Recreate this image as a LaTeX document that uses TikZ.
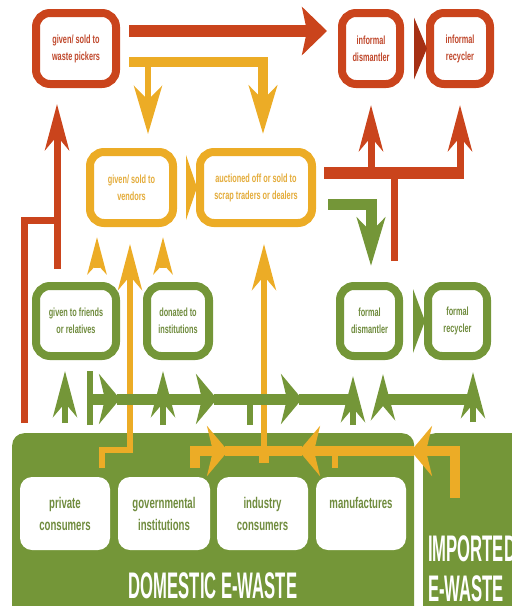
\documentclass[tikz,border=0pt]{standalone}
\usepackage{fontspec}
\setmainfont{Liberation Sans}
\newfontfamily\boxfont{Liberation Sans}[FakeStretch=0.62]
\newfontfamily\headfont{Liberation Sans}[FakeStretch=0.45]
\usetikzlibrary{arrows.meta,calc}
\definecolor{wasteRed}{RGB}{202,68,28}
\definecolor{wasteDark}{RGB}{165,48,20}
\definecolor{vendYellow}{RGB}{236,172,38}
\definecolor{formGreen}{RGB}{116,150,56}
\definecolor{redText}{RGB}{192,72,44}
\definecolor{yellowText}{RGB}{228,172,58}
\definecolor{greenText}{RGB}{112,140,62}

\begin{document}
\begin{tikzpicture}[
  x=1pt, y=-1pt,
  stage/.style={draw, line width=8pt, rounded corners=14pt, fill=white, minimum height=71pt,
    align=center, inner sep=0pt, font=\boxfont\bfseries\fontsize{11.8}{17}\selectfont},
  informal/.style={stage, draw=wasteRed, text=redText},
  trade/.style={stage, draw=vendYellow, text=yellowText},
  formal/.style={stage, draw=formGreen, text=greenText},
  source/.style={fill=white, rounded corners=12pt, minimum height=73pt, align=center, inner sep=0pt,
    text=greenText, font=\boxfont\bfseries\fontsize{15.5}{22}\selectfont},
  panel/.style={fill=formGreen, rounded corners=12pt, anchor=north west, minimum height=220pt},
  bigtitle/.style={text=white, align=left, inner sep=0pt, font=\headfont\bfseries\fontsize{37}{40}\selectfont},
  redbar/.style={draw=wasteRed, line width=12pt},
  redline/.style={draw=wasteRed, line width=7pt},
  yelbar/.style={draw=vendYellow, line width=10pt},
  yelline/.style={draw=vendYellow, line width=6pt},
  grnbar/.style={draw=formGreen, line width=11pt},
  grnline/.style={draw=formGreen, line width=6pt},
  bighead/.style={-{Stealth[length=25pt,width=48pt,inset=5pt]}},
  uphead/.style={-{Stealth[length=46pt,width=24pt,inset=14pt]}},
  downhead/.style={-{Stealth[length=48pt,width=28pt,inset=14pt]}},
  sidehead/.style={-{Stealth[length=21pt,width=50pt,inset=6pt]}},
  smallhead/.style={-{Stealth[length=37pt,width=19pt,inset=10pt]}}
]
\useasboundingbox (0,0) rectangle (512,606);
\clip (0,0) rectangle (512,606);

% Sources of e-waste.
\node[panel, minimum width=402pt] (domestic) at (12,433) {};
\node[panel, minimum width=120pt] (imported) at (423,433) {};
\node[source, minimum width=90pt] (priv) at (65,513.5) {private\\consumers};
\node[source, minimum width=92pt] (govt) at (164,513.5) {governmental\\institutions};
\node[source, minimum width=91pt] (indu) at (262.5,513.5) {industry\\consumers};
\node[source, minimum width=90pt] (manu) at (361,513.5) {manufactures\\\mbox{}};
\node[bigtitle] (domtitle) at (213,586) {DOMESTIC E-WASTE};
\node[bigtitle, anchor=west] (imptitle) at (428,569) {IMPORTED\\E-WASTE};

% Informal, trade and formal stages.
\node[informal, minimum width=80pt] (pick) at (76,48.5) {given/ sold to\\waste pickers};
\node[informal, minimum width=58pt] (idis) at (371,48.5) {informal\\dismantler};
\node[informal, minimum width=60pt] (irec) at (460,48.5) {informal\\recycler};
\node[trade, minimum width=83pt] (vend) at (131.5,187.5) {given/ sold to\\vendors};
\node[trade, minimum width=112pt] (auct) at (256,187.5) {auctioned off or sold to\\scrap traders or dealers};
\node[formal, minimum width=80pt, minimum height=70pt] (frnd) at (76,321) {given to friends\\or relatives};
\node[formal, minimum width=62pt, minimum height=70pt] (dona) at (178,321) {donated to\\institutions};
\node[formal, minimum width=59pt, minimum height=70pt] (fdis) at (369.5,321) {formal\\dismantler};
\node[formal, minimum width=59pt, minimum height=70pt] (frec) at (457.5,321) {formal\\recycler};

% Chevrons between dismantler and recycler.
\fill[wasteDark] ($(idis.east)+(10,-31)$) -- ($(idis.east)+(23,0)$) -- ($(idis.east)+(10,31)$) -- cycle;
\fill[vendYellow] ($(vend.east)+(9,-32.5)$) -- ($(vend.east)+(20,0)$) -- ($(vend.east)+(9,32.5)$) -- cycle;
\fill[formGreen] ($(fdis.east)+(10,-32)$) -- ($(fdis.east)+(22,0)$) -- ($(fdis.east)+(10,32)$) -- cycle;

% Red flows.
\coordinate (redjoin) at (60.5,220);
\coordinate (redfork) at (324,173);
\coordinate (redend) at (463.5,173);
\coordinate (redtee) at (394,173);
\draw[redbar, bighead] ($(pick.east)+(9,-17.5)$) -- ($(idis.west)+(-11,-17.5)$);
\draw[redline] ($(domestic.north west)+(12,-10)$) |- (redjoin);
\draw[redline, uphead] ($(frnd.north)+(-19,-13)$) -- ($(pick.south)+(-19,16)$);
\draw[redbar] (redfork) -- (redend);
\draw[redline, uphead] (redfork -| idis.south) -- ($(idis.south)+(0,17)$);
\draw[redline, uphead] (redend -| irec.south) -- ($(irec.south)+(0,17)$);
\draw[redline] ($(fdis.north)+(24.5,-21)$) -- (redtee);

% Yellow flows.
\coordinate (privbend) at (130,450);
\coordinate (busgov) at (195,451);
\coordinate (busmid) at (264,451);
\coordinate (busmanu) at (335,451);
\coordinate (busimp) at (455,451);
\draw[yelbar, downhead] ($(pick.east)+(9,13.5)$) -| ($(auct.north)+(7,-14)$);
\draw[yelline, downhead] ($(vend.north)+(16.5,-90)$) -- ($(vend.north)+(16.5,-14)$);
\draw[yelline, smallhead] ($(frnd.north)+(21,-14)$) -- ($(vend.south)+(-34.5,10)$);
\draw[yelline, smallhead] ($(dona.north)+(-15,-14)$) -- ($(vend.south)+(31.5,10)$);
\draw[yelline, uphead] ($(priv.north)+(37,-9)$) |- (privbend) -- ($(vend.south)+(-1.5,17)$);
\draw[yelbar, sidehead] ($(govt.north)+(31,-9)$) |- ($(busgov)+(33,0)$);
\draw[yelbar] ($(busgov)+(30,0)$) -- (busmid);
\draw[yelbar, sidehead] ($(imported.north west)+(32,65)$) |- ($(busimp)+(-44,0)$);
\draw[yelbar, sidehead] ($(busimp)+(-41,0)$) -- ($(busmid)+(35,0)$);
\draw[yelbar] ($(busmid)+(38,0)$) -- (busmid);
\draw[yelbar] ($(indu.north)+(1.5,-14)$) -- (busmid);
\draw[yelline] ($(manu.north)+(-26,-9)$) -- (busmanu);
\draw[yelline, uphead] (busmid) -- ($(auct.south)+(8,17)$);

% Green flows.
\coordinate (grnleft) at (90,399);
\coordinate (grnright) at (356,399);
\coordinate (grnpair) at (383,399);
\draw[grnbar, downhead] ($(auct.east)+(12,16.5)$) -| ($(fdis.north)+(1.5,-16)$);
\draw[grnline, uphead] ($(domestic.north west)+(53,-10)$) -- ($(frnd.south)+(-11,11)$);
\draw[grnline, uphead] ($(domestic.north west)+(151,-8)$) -- ($(dona.south)+(-15,11)$);
\draw[grnline, uphead] ($(domestic.north west)+(341,-8)$) -- ($(fdis.south)+(-16.5,16)$);
\draw[grnline, uphead] ($(imported.north west)+(50,-11)$) -- ($(frec.south)+(15.5,12)$);
\draw[grnline] ($(domestic.north west)+(78,-8)$) -- ($(frnd.south)+(14,11)$);
\draw[grnbar, sidehead] (grnleft) -- ($(grnleft)+(30,0)$);
\draw[grnbar, sidehead] ($(grnleft)+(27,0)$) -- ($(grnleft)+(127,0)$);
\draw[grnbar, sidehead] ($(grnleft)+(124,0)$) -- ($(grnleft)+(212,0)$);
\draw[grnbar] ($(grnleft)+(209,0)$) -- (grnright);
\draw[grnline] ($(grnleft)+(160,0)$) -- ($(domestic.north west)+(238,-8)$);
\draw[grnbar] (grnpair) -- ($(grnpair)+(93,0)$);
\draw[grnline, uphead] (grnpair) -- ($(fdis.south)+(13.5,14)$);

\end{tikzpicture}
\end{document}
